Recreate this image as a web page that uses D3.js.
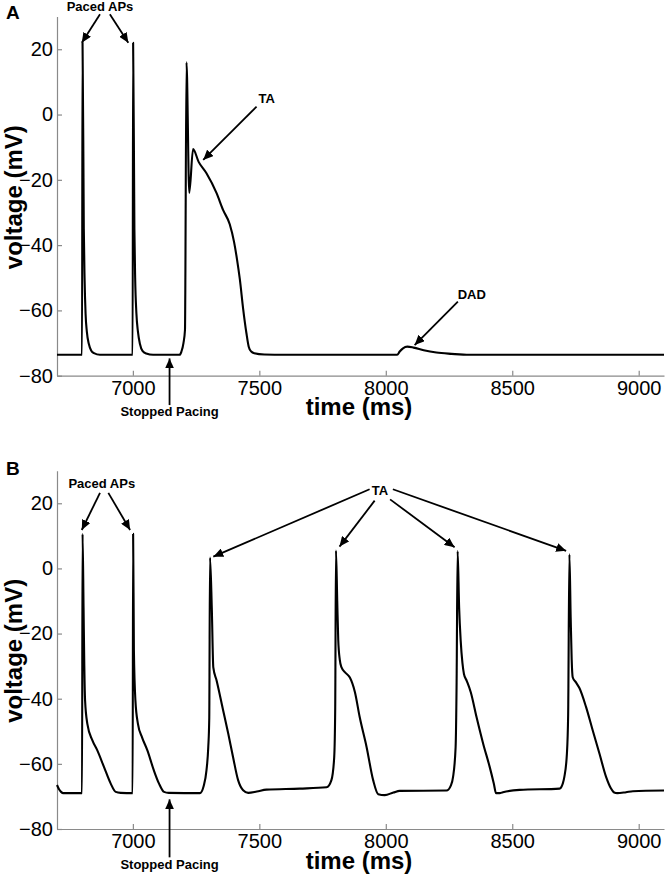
<!DOCTYPE html>
<html><head><meta charset="utf-8">
<script src="https://cdn.jsdelivr.net/npm/d3@7"></script>
<style>html,body{margin:0;padding:0;background:#fff;} svg{display:block;}</style>
</head><body>
<svg id="chart" width="666" height="875"></svg>
<script>
// ---- data ----
const xTicks = [7000, 7500, 8000, 8500, 9000];
const yTicks = [-80, -60, -40, -20, 0, 20];
const timeDomain = [6700, 9100];
const voltDomain = [-80, 30];

// Panel A trace: [time (ms), voltage (mV)]
const traceA = [
  [6700,-73.6],[6799,-73.6],[6801,22],[6806,-35],[6809,-50],[6813,-61],[6818,-66.5],[6826,-70.3],[6835,-72.3],[6846,-73.1],
  [6870,-73.6],[6999,-73.6],[7001,22],[7006,-35],[7009,-50],[7014,-61],[7020,-66.5],[7028,-70.3],[7038,-72.4],[7053,-73.2],
  [7080,-73.6],[7185,-73.6],[7192,-72.6],[7200,-70],[7206,-66],[7212,16],[7223,-24],[7238,-10.6],[7260,-14.5],[7291,-18],
  [7331,-24.1],[7357,-29.3],[7383,-33.6],[7400,-39],[7412,-44.5],[7423,-50.5],[7436,-59.5],[7449,-67],[7458,-71.1],[7468,-72.6],
  [7480,-73.1],[7520,-73.5],[7600,-73.6],[8045,-73.6],[8055,-72.6],[8068,-71.6],[8085,-71.1],[8110,-71.4],[8150,-72.2],[8200,-72.9],
  [8260,-73.3],[8330,-73.6],[9100,-73.6]
];

// Panel B trace: [time (ms), voltage (mV)]
const traceB = [
  [6700,-66.5],[6708,-67.8],[6716,-68.6],[6725,-69],[6799,-69],[6801,10.6],[6805,-12],[6808,-30],[6811,-40.5],[6820,-47.7],
  [6840,-52.8],[6859,-55.8],[6886,-61],[6912,-66],[6932,-68.6],[6952,-68.9],[6999,-69],[7001,10.6],[7004,-25],[7010,-40.5],
  [7020,-47.7],[7037,-52],[7057,-55.8],[7083,-62],[7103,-66],[7123,-68.6],[7142,-68.9],[7265,-69],[7280,-66.8],[7291,-62],
  [7298,-55],[7302,-46],[7305,3.3],[7312,-12],[7318,-30.4],[7331,-34.4],[7357,-43.6],[7377,-50.7],[7396,-57.9],[7416,-65],
  [7436,-68.1],[7456,-68.9],[7490,-68.5],[7528,-67.9],[7660,-67.6],[7766,-67.2],[7785,-65],[7796,-58],[7800,-43],[7803,5.5],
  [7808,-10],[7812,-22],[7818,-28],[7825,-30.4],[7840,-32],[7858,-33.5],[7878,-38],[7897,-45.7],[7924,-54.8],[7950,-65],
  [7970,-69.3],[7996,-69.6],[8030,-68.8],[8055,-68.3],[8240,-68.2],[8258,-66.5],[8266,-64],[8276,-55],[8280,-35],[8284,5.3],
  [8290,-12],[8296,-22],[8303,-29],[8309,-32.4],[8320,-34.5],[8336,-38],[8359,-45.7],[8385,-53.8],[8411,-61],[8427,-66],
  [8436,-69],[8450,-69],[8463,-68.7],[8529,-68],[8687,-67.6],[8700,-66],[8706,-64],[8716,-57],[8721,-45],[8726,4.3],
  [8731,-15],[8735,-28],[8739,-33.4],[8752,-35],[8766,-36.8],[8792,-42.6],[8818,-49.7],[8845,-56.9],[8871,-64],[8890,-67.5],
  [8903,-68.8],[8915,-69],[8950,-68.7],[8977,-68.4],[9100,-68.2]
];

// Annotation labels (data coordinates of text baseline centre)
const labelsA = [
  {text:"Paced APs", t:6870, v:31.8},
  {text:"TA", t:7529, v:3.5},
  {text:"DAD", t:8340, v:-56.5},
  {text:"Stopped Pacing", t:7145, v:-92.2}
];
const labelsB = [
  {text:"Paced APs", t:6877, v:24.7},
  {text:"TA", t:7977, v:22.5},
  {text:"Stopped Pacing", t:7145, v:-92.2}
];
// Arrows: [tailTime, tailVolt, headTime, headVolt]
const arrowsA = [
  [6870,30.7,6798,22],[6909,30.7,6982,22],[7489,2.4,7278,-13.9],[8285,-57.3,8114,-70.6],[7145,-89,7145,-74.7]
];
const arrowsB = [
  [6870,23.2,6798,11.8],[6903,23.2,6989,11.8],[7936,24.3,7318,3.6],[7956,20.8,7817,6.7],
  [8017,21.2,8272,6.5],[8028,24.3,8713,5.4],[7145,-88.7,7145,-70.9]
];

// ---- drawing ----
const FONT = "'Liberation Sans', Arial, Helvetica, sans-serif";
const svg = d3.select("#chart");
svg.append("rect").attr("width",666).attr("height",875).attr("fill","#fff");

const defs = svg.append("defs");
defs.append("marker").attr("id","ah")
  .attr("markerUnits","userSpaceOnUse")
  .attr("markerWidth",11).attr("markerHeight",9)
  .attr("refX",10).attr("refY",4.5).attr("orient","auto")
  .append("path").attr("d","M0,0 L10,4.5 L0,9 Z").attr("fill","#000");

const x = d3.scaleLinear().domain(timeDomain).range([57, 664]);

function drawPanel(cfg){
  const y = d3.scaleLinear().domain(voltDomain).range([cfg.bottom, cfg.top]);
  const g = svg.append("g");

  const xAxis = d3.axisBottom(x).tickValues(xTicks).tickSizeInner(-5).tickSizeOuter(0)
    .tickPadding(5).tickFormat(d3.format("d"));
  const gx = g.append("g").attr("transform",`translate(0,${cfg.bottom})`).call(xAxis);
  const yAxis = d3.axisLeft(y).tickValues(yTicks).tickSizeInner(-5).tickSizeOuter(0)
    .tickPadding(4).tickFormat(d3.format("d"));
  const gy = g.append("g").attr("transform",`translate(${x.range()[0]},0)`).call(yAxis);
  [gx, gy].forEach(a=>{
    a.select(".domain").attr("stroke","#8a8a8a").attr("stroke-width",1.2);
    a.selectAll(".tick line").attr("stroke","#8a8a8a").attr("stroke-width",1.2);
    a.selectAll(".tick text").attr("fill","#000").style("font-family",FONT).style("font-size","20px");
  });

  // trace
  const line = d3.line().x(d=>x(d[0])).y(d=>y(d[1])).curve(d3.curveMonotoneX);
  g.append("path").datum(cfg.trace).attr("d",line)
    .attr("fill","none").attr("stroke","#000").attr("stroke-width",2.1)
    .attr("stroke-linejoin","round");

  // axis titles
  g.append("text").attr("transform",`translate(22,${(cfg.top+cfg.bottom)/2+1}) rotate(-90)`)
    .attr("text-anchor","middle").style("font-family",FONT).style("font-weight","bold")
    .style("font-size","24px").text("voltage (mV)");
  g.append("text").attr("x",359).attr("y",cfg.bottom+39.5)
    .attr("text-anchor","middle").style("font-family",FONT).style("font-weight","bold")
    .style("font-size","24px").text("time (ms)");

  // panel letter
  g.append("text").attr("x",6).attr("y",cfg.letterY)
    .style("font-family",FONT).style("font-weight","bold").style("font-size","19px").text(cfg.letter);

  // annotations
  g.selectAll("line.arrow").data(cfg.arrows).enter().append("line").attr("class","arrow")
    .attr("x1",d=>x(d[0])).attr("y1",d=>y(d[1])).attr("x2",d=>x(d[2])).attr("y2",d=>y(d[3]))
    .attr("stroke","#000").attr("stroke-width",1.8).attr("marker-end","url(#ah)");
  g.selectAll("text.ann").data(cfg.labels).enter().append("text").attr("class","ann")
    .attr("x",d=>x(d.t)).attr("y",d=>y(d.v)).attr("text-anchor","middle")
    .style("font-family",FONT).style("font-weight","bold").style("font-size","13px")
    .text(d=>d.text);
}

drawPanel({letter:"A", letterY:18.5, top:16.6, bottom:375.7, trace:traceA, labels:labelsA, arrows:arrowsA});
drawPanel({letter:"B", letterY:475, top:470.7, bottom:829, trace:traceB, labels:labelsB, arrows:arrowsB});
</script>
</body></html>
